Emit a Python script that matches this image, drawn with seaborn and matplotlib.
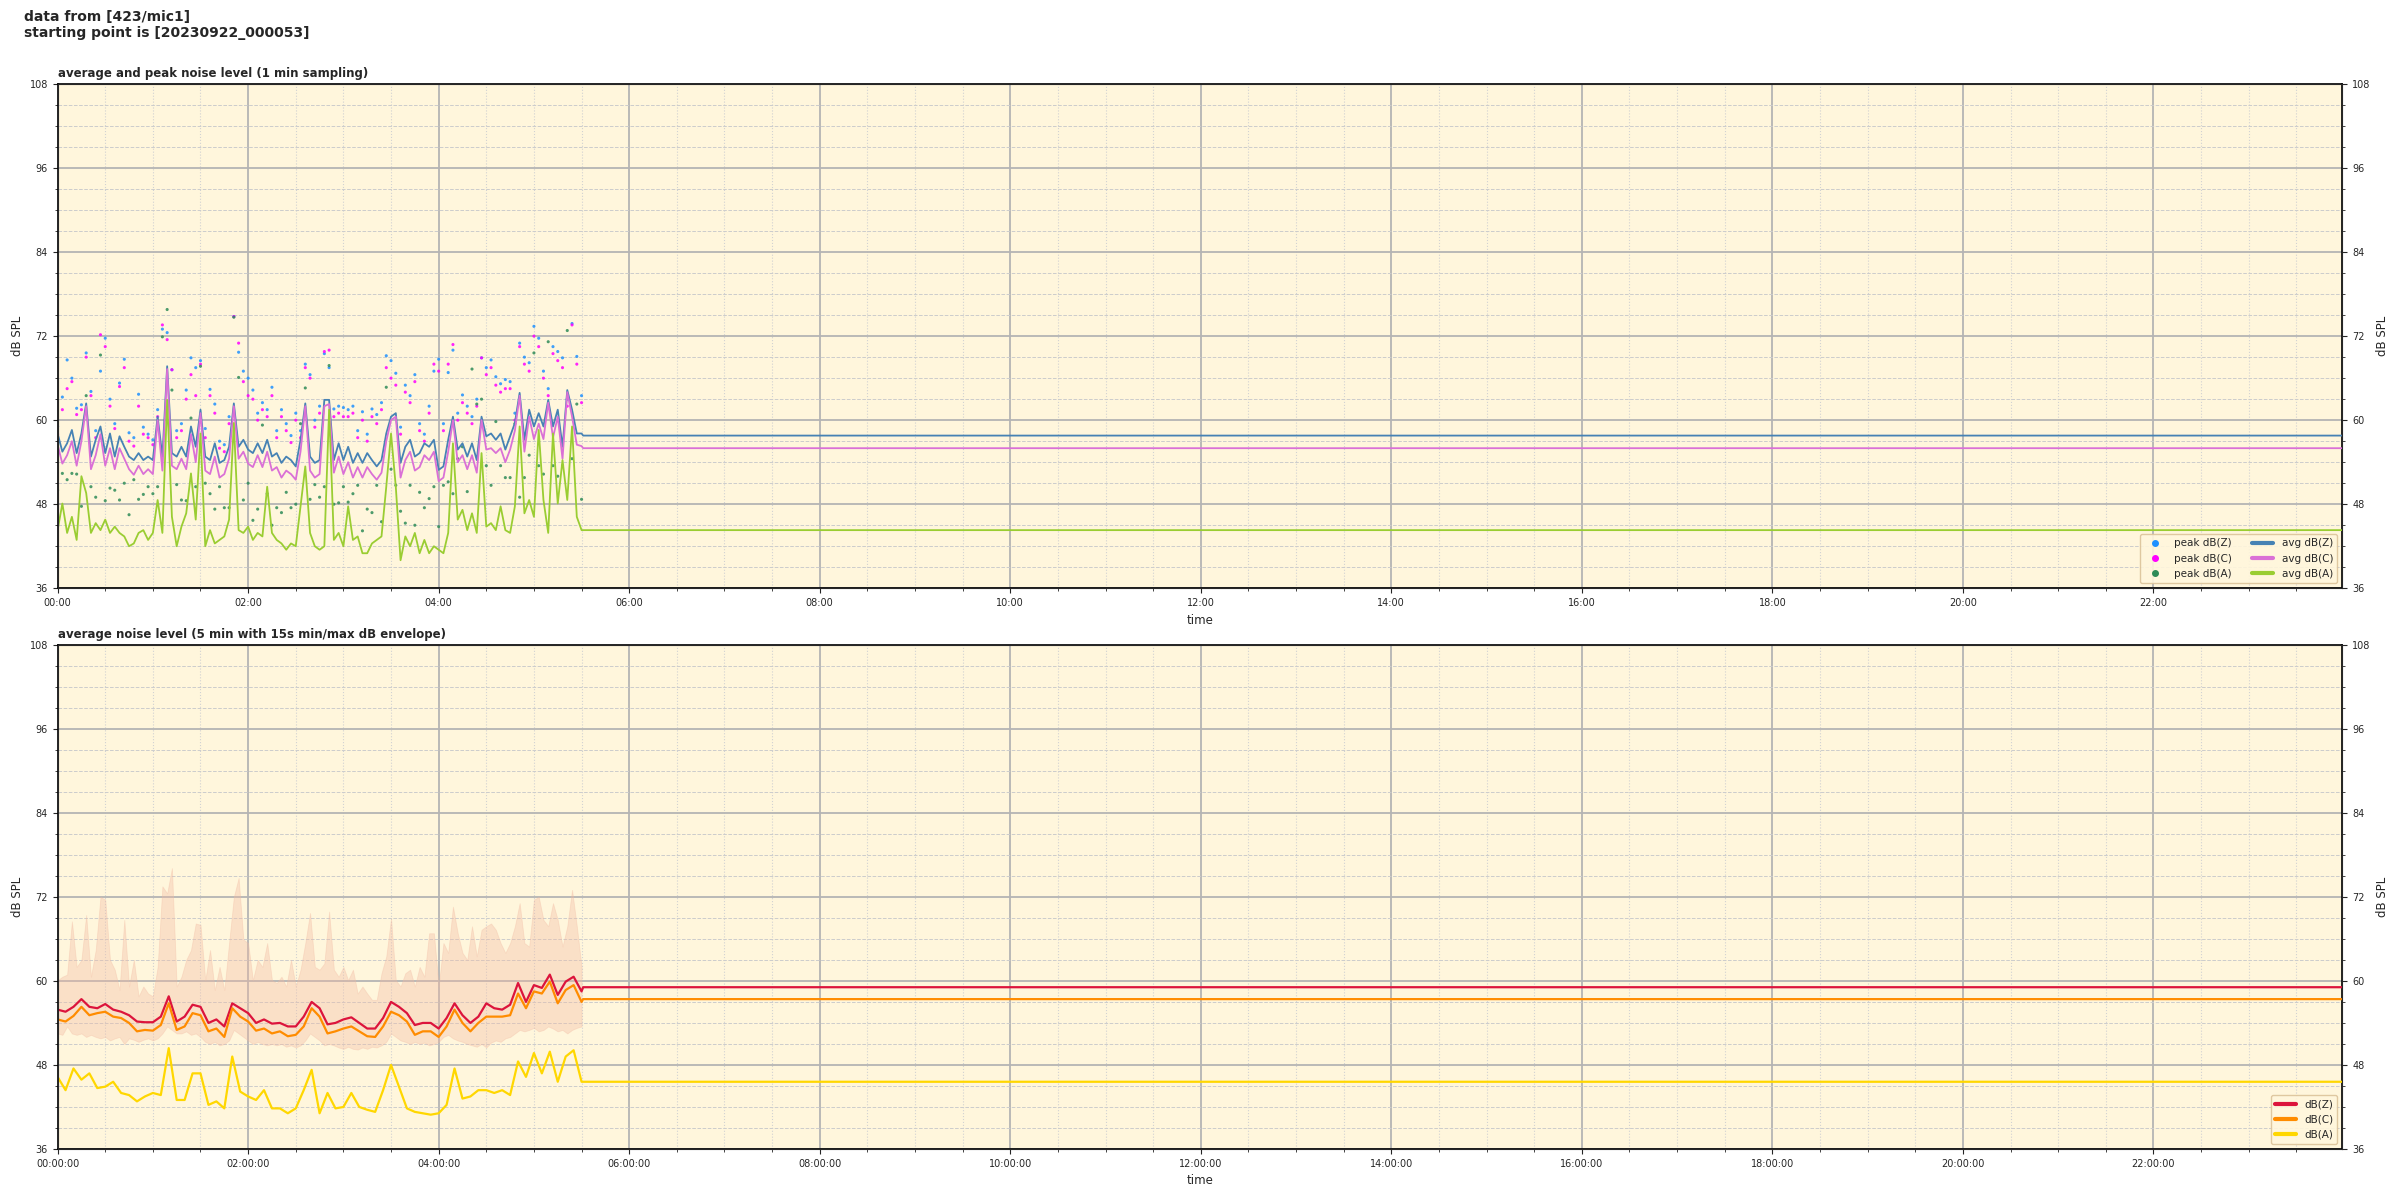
import matplotlib
matplotlib.use("Agg")
import matplotlib.dates as mdates
import matplotlib.pyplot as plt
import numpy as np
import pandas as pd
import seaborn as sns
from matplotlib.lines import Line2D

# readings taken off the source chart; minutes after the starting point
start = pd.Timestamp("2023-09-22 00:00:00")
day_minutes = 24 * 60

# top panel: 1 min data, read every 3 minutes
t_top = np.arange(0, 331, 3)
avg_z = [58.1, 55.5, 56.7, 58.6, 55.3, 58.1, 62.4, 54.8, 57.2, 59.1,
         55.3, 58.1, 54.8, 57.7, 56.2, 54.8, 54.3, 55.3, 54.3, 54.8,
         54.3, 60.5, 54.8, 67.7, 55.3, 54.8, 56.2, 54.8, 59.1, 56.2,
         61.5, 54.8, 54.3, 56.7, 53.9, 54.3, 56.2, 62.4, 56.2, 57.2,
         55.8, 55.3, 56.7, 55.3, 57.2, 54.8, 55.3, 53.9, 54.8, 54.3,
         53.4, 57.2, 62.4, 54.8, 53.9, 54.3, 62.9,
         62.9, 54.3, 56.7, 54.3, 56.2, 53.9, 55.3, 53.9, 55.3, 54.3,
         53.4, 54.3, 58.1, 60.5, 61.0, 53.9, 56.2, 57.2, 54.8, 55.3,
         56.7, 56.2, 57.2, 52.9, 53.4, 57.2, 60.5, 55.8, 56.7, 54.8,
         56.7, 54.3, 60.5, 57.7, 58.1, 57.2, 58.1, 55.8, 57.7, 59.6,
         63.9, 57.2, 61.5, 59.1, 61.0, 59.1, 62.9, 59.1, 61.5, 56.2,
         64.3, 61.5, 58.1, 58.1]
avg_c = [56.5, 53.8, 55.0, 57.0, 53.5, 57.0, 62.0, 53.0, 55.0, 58.0,
         53.5, 56.0, 53.0, 56.0, 54.5, 53.0, 52.2, 53.5, 52.3, 53.0,
         52.3, 60.0, 52.8, 67.3, 53.5, 53.0, 54.5, 53.0, 58.0, 54.0,
         61.0, 52.8, 52.3, 54.8, 51.8, 52.3, 54.5, 62.0, 54.5, 55.5,
         53.8, 53.3, 55.0, 53.3, 55.5, 52.8, 53.3, 51.8, 52.8, 52.3,
         51.5, 55.5, 62.0, 52.8, 51.8, 52.3, 62.0,
         62.3, 52.5, 54.8, 52.3, 54.0, 51.8, 53.3, 51.8, 53.3, 52.3,
         51.5, 52.5, 57.0, 60.0, 60.5, 51.8, 54.3, 55.5, 52.8, 53.3,
         55.0, 54.3, 55.5, 51.3, 51.8, 55.5, 60.0, 54.0, 55.0, 53.0,
         55.0, 52.5, 60.0, 55.8, 56.0, 55.3, 56.0, 54.0, 55.8, 58.5,
         63.5, 55.5, 60.5, 57.3, 59.5, 57.3, 62.5, 57.5, 60.5, 54.5,
         64.0, 60.5, 56.5, 56.3]
avg_a = [44.3, 48.1, 43.9, 46.2, 42.9, 52.0, 49.6, 43.9, 45.3, 44.3,
         45.8, 43.9, 44.8, 43.9, 43.4, 42.0, 42.4, 43.9, 44.3, 42.9,
         43.9, 48.6, 43.9, 62.9, 46.2, 42.0, 44.8, 46.7, 52.4, 45.8,
         58.1, 42.0, 44.3, 42.4, 42.9, 43.4, 45.8, 59.6, 44.3, 43.9,
         44.8, 42.9, 43.9, 43.4, 50.5, 43.9, 42.9, 42.4, 41.5, 42.4,
         42.0, 47.7, 53.4, 43.9, 42.0, 41.5, 42.0,
         61.5, 42.9, 43.9, 42.0, 47.7, 42.9, 43.4, 41.0, 41.0, 42.4,
         42.9, 43.4, 50.5, 58.1, 50.5, 40.0, 43.4, 42.0, 43.9, 41.0,
         42.9, 41.0, 42.0, 41.5, 41.0, 43.9, 56.7, 45.8, 47.2, 44.3,
         46.7, 43.9, 55.3, 44.8, 45.3, 44.3, 47.7, 44.3, 43.9, 47.7,
         59.1, 46.7, 48.6, 46.2, 58.6, 48.6, 43.9, 58.1, 48.1, 54.3,
         48.6, 59.1, 46.2, 44.3]
peak_z = [59.1, 63.3, 68.6, 66.0, 61.7, 62.2, 69.6, 64.1, 58.5, 67.0,
          71.7, 63.0, 59.5, 65.3, 68.7, 58.2, 57.5, 63.7, 59.0, 58.0,
          57.2, 61.5, 73.0, 72.5, 67.2, 58.5, 59.5, 64.3, 68.9, 67.5,
          68.5, 58.8, 64.4, 62.3, 57.0, 56.5, 60.5, 74.8, 69.7, 67.0,
          66.0, 64.3, 61.0, 62.5, 61.5, 64.7, 58.5, 61.5, 59.5, 57.8,
          61.0, 58.5, 68.0, 66.5, 60.0, 62.0, 69.5,
          67.5, 61.6, 62.0, 61.8, 61.5, 62.0, 58.5, 61.2, 58.0, 61.6,
          60.8, 62.5, 69.2, 68.5, 66.7, 59.0, 65.0, 63.5, 66.5, 59.5,
          58.0, 62.0, 67.0, 68.7, 59.5, 66.8, 70.0, 61.0, 63.6, 62.0,
          60.5, 63.0, 68.9, 67.5, 68.6, 66.2, 65.2, 65.8, 65.5, 61.0,
          71.0, 69.0, 68.2, 73.4, 71.7, 67.0, 64.5, 70.5, 69.8, 68.9,
          63.0, 73.8, 69.1, 63.5]
peak_c = [58.0, 61.5, 64.5, 65.5, 60.8, 61.5, 69.0, 63.5, 57.5, 72.2,
          70.5, 62.0, 58.8, 64.8, 67.5, 57.0, 56.3, 62.0, 58.0, 57.5,
          56.5, 60.5, 73.6, 71.5, 67.2, 57.5, 58.5, 63.0, 66.5, 63.5,
          68.0, 57.5, 63.5, 61.0, 56.0, 55.5, 59.5, 74.8, 71.0, 65.5,
          63.5, 63.0, 60.0, 61.5, 60.5, 63.5, 57.5, 60.5, 58.5, 56.8,
          60.0, 57.5, 67.5, 66.0, 59.0, 61.0, 69.8,
          70.0, 60.5, 61.0, 60.5, 60.5, 61.0, 57.5, 60.0, 57.0, 60.5,
          59.5, 61.5, 67.5, 66.0, 65.0, 58.0, 64.0, 62.5, 65.5, 58.5,
          57.0, 61.0, 68.0, 67.0, 58.5, 68.0, 70.8, 60.0, 62.5, 61.0,
          59.5, 62.0, 68.9, 66.5, 67.5, 65.0, 64.0, 64.5, 64.5, 60.0,
          70.5, 68.0, 67.0, 72.0, 70.5, 66.0, 63.5, 69.5, 68.5, 67.5,
          62.0, 73.6, 68.0, 62.5]
peak_a = [50.0, 52.4, 51.5, 52.4, 52.3, 47.7, 63.5, 50.5, 49.0, 69.3,
          48.5, 50.3, 50.0, 48.6, 51.0, 46.5, 51.5, 48.7, 49.4, 50.5,
          49.5, 50.5, 71.9, 75.8, 64.3, 50.8, 48.6, 48.5, 60.3, 50.5,
          67.7, 51.0, 49.5, 47.3, 50.5, 47.5, 47.5, 74.7, 66.1, 48.6,
          51.0, 45.7, 47.3, 59.3, 49.5, 45.0, 47.5, 46.8, 49.7, 47.5,
          48.0, 59.5, 64.6, 48.7, 50.8, 49.0, 50.5,
          67.8, 48.0, 48.2, 50.5, 48.3, 49.5, 50.7, 44.2, 47.3, 46.8,
          50.7, 45.5, 64.7, 53.0, 50.7, 47.0, 45.3, 50.7, 45.0, 49.7,
          47.5, 48.8, 50.5, 44.8, 50.7, 51.2, 49.5, 54.5, 56.2, 49.8,
          67.3, 62.3, 63.0, 53.5, 50.7, 59.8, 53.5, 51.8, 51.8, 59.5,
          49.0, 51.8, 55.0, 69.6, 53.5, 52.3, 71.2, 53.5, 52.0, 53.5,
          72.8, 54.5, 62.3, 48.7]
# level the avg lines hold after the data stops
avg_tail = {"avg dB(Z)": 57.8, "avg dB(C)": 56.0, "avg dB(A)": 44.3}

# bottom panel: 5 min average, read every 5 minutes
t_bot = np.arange(0, 331, 5)
lvl_z = [55.9, 55.6, 56.3, 57.4, 56.3, 56.1, 56.7, 55.9, 55.6, 55.1,
         54.2, 54.1, 54.1, 54.9, 57.8, 54.2, 54.9, 56.6, 56.3, 54.0,
         54.5, 53.5, 56.8, 56.1, 55.4, 54.0, 54.5, 53.9, 54.0, 53.5,
         53.5, 54.9, 57.0, 56.1, 53.8, 54.0, 54.5, 54.8, 54.0, 53.2,
         53.2, 54.7, 57.0, 56.3, 55.4, 53.7, 54.0, 54.0, 53.2, 54.7,
         56.8, 55.1, 54.0, 54.9, 56.8, 56.1, 55.9, 56.6, 59.7, 57.0,
         59.4, 59.0, 60.9, 58.0, 59.9, 60.6, 58.5]
lvl_c = [54.5, 54.2, 55.0, 56.3, 55.1, 55.4, 55.6, 54.9, 54.7, 54.0,
         52.8, 53.0, 52.9, 53.7, 56.8, 53.0, 53.5, 55.4, 55.1, 52.8,
         53.2, 52.0, 56.1, 54.9, 54.2, 52.9, 53.2, 52.5, 52.8, 52.1,
         52.3, 53.5, 56.1, 54.9, 52.5, 52.8, 53.2, 53.5, 52.8, 52.1,
         52.0, 53.5, 55.6, 55.1, 54.2, 52.3, 52.8, 52.8, 52.0, 53.5,
         55.9, 54.0, 52.8, 54.0, 54.9, 54.9, 54.9, 55.1, 58.2, 56.1,
         58.5, 58.2, 59.9, 56.8, 58.7, 59.4, 57.0]
lvl_a = [46.3, 44.4, 47.5, 45.9, 46.8, 44.7, 44.9, 45.6, 44.0, 43.7,
         42.8, 43.5, 44.0, 43.7, 50.4, 43.0, 43.0, 46.8, 46.8, 42.3,
         42.8, 41.8, 49.2, 44.2, 43.5, 43.0, 44.4, 41.8, 41.8, 41.1,
         41.8, 44.4, 47.3, 41.1, 44.0, 41.8, 42.0, 44.0, 42.0, 41.6,
         41.3, 44.4, 48.0, 44.9, 41.8, 41.3, 41.1, 40.9, 41.1, 42.3,
         47.5, 43.2, 43.5, 44.4, 44.4, 44.0, 44.4, 43.7, 48.5, 46.3,
         49.7, 46.8, 49.9, 45.6, 49.2, 50.1, 45.6]
lvl_tail = {"dB(Z)": 59.1, "dB(C)": 57.4, "dB(A)": 45.6}

# 15 s min/max envelope, read every 3 minutes
t_env = np.arange(0, 331, 3)
env_max = [60.1, 60.6, 60.9, 68.5, 62.0, 63.0, 69.4, 60.6, 64.4, 72.0,
           71.6, 63.0, 61.6, 58.7, 68.7, 59.2, 63.0, 57.8, 59.2, 58.2,
           57.8, 62.0, 73.5, 72.5, 76.1, 59.2, 60.6, 63.0, 64.4, 68.2,
           68.0, 60.1, 64.4, 58.7, 62.0, 58.7, 65.4, 72.0, 74.7, 65.9,
           65.4, 60.1, 63.0, 62.0, 65.4, 60.1, 59.7, 60.6, 59.2, 63.0,
           59.2, 61.6, 65.4, 69.7, 62.0, 61.6, 62.5,
           69.9, 61.6, 60.6, 62.0, 60.1, 61.6, 58.2, 59.2, 58.2, 57.3,
           57.3, 61.1, 63.5, 68.9, 60.1, 59.2, 61.1, 61.6, 59.2, 62.0,
           60.6, 66.8, 66.8, 59.2, 65.4, 64.0, 70.6, 66.8, 64.0, 63.0,
           67.8, 63.5, 67.3, 67.8, 68.2, 67.3, 65.4, 64.0, 65.4, 67.8,
           71.1, 65.4, 64.9, 71.6, 72.0, 68.7, 67.8, 71.1, 68.7, 64.9,
           67.8, 73.0, 67.8, 62.0]
env_min = [52.5, 52.3, 53.5, 52.5, 52.3, 52.5, 52.0, 52.3,
           52.0, 51.8, 52.0, 51.5, 51.8, 52.0, 51.0, 51.8,
           51.6, 51.3, 51.6, 51.8, 51.5, 51.8, 52.5,
           53.5, 53.0, 52.5,
           52.5, 52.8, 52.3, 52.5, 52.0,
           51.3, 51.0, 51.3, 50.8, 51.0, 51.5,
           53.0, 52.5, 52.0,
           51.5, 51.0, 51.3, 51.0, 50.8, 51.0, 50.8, 51.0,
           50.6, 50.8, 50.5, 50.8, 51.5,
           52.5, 52.0, 51.5, 50.8,
           51.0, 50.8, 50.5, 50.3, 50.6, 50.3, 50.2, 50.5, 50.3, 50.6, 50.5, 50.8, 51.3,
           52.5, 52.0, 51.5,
           51.3, 51.0, 51.3, 51.0, 51.2, 50.8, 51.0, 51.3,
           52.0, 52.3, 51.8, 51.5, 51.3, 51.0,
           50.8, 50.6, 51.0, 50.5, 51.2, 51.5, 51.3, 51.8, 52.0,
           52.5, 53.0, 52.8, 53.0, 53.3, 52.8, 53.0, 53.5, 53.2, 52.8, 53.0, 52.5, 53.0, 53.3, 53.5]


def to_time(minutes):
    return start + pd.to_timedelta(minutes, unit="m")


def with_tail(t, values, tail):
    # data, then the constant level up to the end of the day
    tt = np.concatenate([t, [t[-1] + 1, day_minutes]])
    vv = np.concatenate([values, [tail, tail]])
    return to_time(tt), vv


bg = "#fff6dc"
sns.set_style("ticks")
plt.rcParams["font.family"] = ["DejaVu Sans"]

fig, (ax1, ax2) = plt.subplots(2, 1, figsize=(24, 12), dpi=100)
fig.subplots_adjust(left=0.024, right=0.976, top=0.93, bottom=0.0425, hspace=0.112)

# ---- top: average and peak
peaks = pd.DataFrame({
    "time": np.tile(to_time(t_top), 3),
    "dB": np.concatenate([peak_z, peak_c, peak_a]),
    "series": np.repeat(["peak dB(Z)", "peak dB(C)", "peak dB(A)"], len(t_top)),
})
peak_colors = {"peak dB(Z)": "dodgerblue", "peak dB(C)": "magenta", "peak dB(A)": "seagreen"}
sns.scatterplot(data=peaks, x="time", y="dB", hue="series", palette=peak_colors,
                s=5, linewidth=0, alpha=0.85, ax=ax1, legend=False, zorder=3)

avg_colors = {"avg dB(Z)": "steelblue", "avg dB(C)": "orchid", "avg dB(A)": "yellowgreen"}
frames = []
for name, vals in [("avg dB(Z)", avg_z), ("avg dB(C)", avg_c), ("avg dB(A)", avg_a)]:
    tt, vv = with_tail(t_top, vals, avg_tail[name])
    frames.append(pd.DataFrame({"time": tt, "dB": vv, "series": name}))
avgs = pd.concat(frames, ignore_index=True)
sns.lineplot(data=avgs, x="time", y="dB", hue="series", palette=avg_colors,
             estimator=None, linewidth=1.3, ax=ax1, legend=False, zorder=4)

# ---- bottom: 5 min average with envelope
ax2.fill_between(to_time(t_env), env_min, env_max, color="#f2b9a2", alpha=0.35,
                 linewidth=0.6, zorder=2)
lvl_colors = {"dB(Z)": "crimson", "dB(C)": "darkorange", "dB(A)": "gold"}
frames = []
for name, vals in [("dB(Z)", lvl_z), ("dB(C)", lvl_c), ("dB(A)", lvl_a)]:
    tt, vv = with_tail(t_bot, vals, lvl_tail[name])
    frames.append(pd.DataFrame({"time": tt, "dB": vv, "series": name}))
lvls = pd.concat(frames, ignore_index=True)
sns.lineplot(data=lvls, x="time", y="dB", hue="series", palette=lvl_colors,
             estimator=None, linewidth=1.6, ax=ax2, legend=False, zorder=4)

tick_font = ["Liberation Sans Narrow", "DejaVu Sans"]
for ax, fmt, title in [(ax1, "%H:%M", "average and peak noise level (1 min sampling)"),
                       (ax2, "%H:%M:%S", "average noise level (5 min with 15s min/max dB envelope)")]:
    ax.set_facecolor(bg)
    ax.set_xlim(start, start + pd.Timedelta(minutes=day_minutes - 1))
    ax.set_ylim(36, 108)
    ax.set_yticks(np.arange(36, 109, 12))
    ax.yaxis.set_minor_locator(matplotlib.ticker.MultipleLocator(3))
    ax.xaxis.set_major_locator(mdates.HourLocator(byhour=range(0, 24, 2)))
    ax.xaxis.set_minor_locator(mdates.MinuteLocator(byminute=[0, 30]))
    ax.xaxis.set_major_formatter(mdates.DateFormatter(fmt))
    ax.grid(which="major", color="#b4b4b4", linewidth=1.3, zorder=0)
    ax.grid(which="minor", axis="y", color="#cccccc", linestyle="--", linewidth=0.7)
    ax.grid(which="minor", axis="x", color="#d2d2d2", linestyle=":", linewidth=0.8)
    ax.set_axisbelow(True)
    ax.set_xlabel("time", fontsize=8.5)
    ax.set_ylabel("dB SPL", fontsize=8.5)
    ax.set_title(title, loc="left", fontsize=8.5, fontweight="bold", pad=5)
    for sp in ax.spines.values():
        sp.set_visible(True)
        sp.set_color("black")
        sp.set_linewidth(1.2)
    ax.tick_params(which="both", direction="out", labelsize=7)
    for lbl in ax.get_xticklabels() + ax.get_yticklabels():
        lbl.set_family(tick_font)
    rax = ax.twinx()
    rax.set_ylim(36, 108)
    rax.set_yticks(np.arange(36, 109, 12))
    rax.yaxis.set_minor_locator(matplotlib.ticker.MultipleLocator(3))
    rax.set_ylabel("dB SPL", fontsize=8.5)
    rax.tick_params(which="both", direction="out", labelsize=7)
    for lbl in rax.get_yticklabels():
        lbl.set_family(tick_font)

leg_style = dict(loc="lower right", fontsize=7.5, facecolor=bg, edgecolor="#dcc39a",
                 framealpha=0.9, borderaxespad=0.5)
h1 = [Line2D([], [], marker="o", linestyle="", markersize=4, color=c, label=n)
      for n, c in peak_colors.items()]
h1 += [Line2D([], [], linewidth=3, color=c, label=n) for n, c in avg_colors.items()]
ax1.legend(handles=h1, ncol=2, columnspacing=2.0, **leg_style).set_zorder(10)
h2 = [Line2D([], [], linewidth=3, color=c, label=n) for n, c in lvl_colors.items()]
ax2.legend(handles=h2, **leg_style).set_zorder(10)

fig.text(0.01, 0.992, "data from [423/mic1]\nstarting point is [20230922_000053]",
         fontsize=10, fontweight="bold", va="top", ha="left")

fig.savefig("out.png", dpi=100)
